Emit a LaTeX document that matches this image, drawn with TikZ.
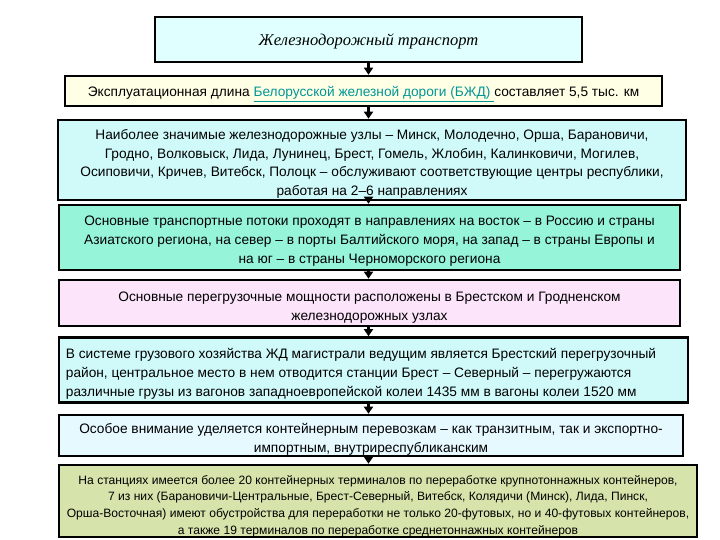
\documentclass[tikz,border=0pt]{standalone}
\usepackage{fontspec}
\setmainfont{Liberation Sans}
\newfontfamily\titlefont{Liberation Serif}
\usetikzlibrary{arrows.meta}
\definecolor{cA}{RGB}{224,255,255}
\definecolor{cB}{RGB}{255,255,230}
\definecolor{cC}{RGB}{208,250,250}
\definecolor{cD}{RGB}{150,244,216}
\definecolor{cE}{RGB}{252,228,250}
\definecolor{cF}{RGB}{208,250,250}
\definecolor{cG}{RGB}{230,249,255}
\definecolor{cH}{RGB}{214,228,172}
\definecolor{linkc}{RGB}{0,150,150}
\tikzset{
  box/.style={draw=black, line width=2.6pt, inner sep=0pt},
  txt/.style={inner sep=0pt, align=center, font=\fontsize{13.7}{18.7}\selectfont},
  arr/.style={line width=2.6pt, -{Triangle[width=9pt,length=7pt]}},
}
\begin{document}
\begin{tikzpicture}[x=1pt,y=-1pt]
\useasboundingbox (0,0) rectangle (720,540);
% boxes
\node[box, fill=cA, minimum width=427, minimum height=45] (b1) at (368.5,39.5) {};
\node[box, fill=cB, minimum width=597, minimum height=30] (b2) at (363.5,91) {};
\node[box, fill=cC, minimum width=628, minimum height=80] (b3) at (372,160) {};
\node[box, fill=cD, minimum width=621, minimum height=65] (b4) at (369.5,237.5) {};
\node[box, fill=cE, minimum width=621, minimum height=46] (b5) at (369.5,303) {};
\node[box, fill=cF, minimum width=629, minimum height=65] (b6) at (373.5,370) {};
\node[box, fill=cG, minimum width=624, minimum height=41] (b7) at (371,435.5) {};
\node[box, fill=cH, minimum width=638, minimum height=72] (b8) at (378,501) {};
% connectors
\foreach \a/\b in {b1/b2,b2/b3,b3/b4,b4/b5,b5/b6,b6/b7,b7/b8}{
  \draw[arr] (b1.south |- \a.south) -- (b1.south |- \b.north);
}
% texts
\node[txt, font=\titlefont\itshape\fontsize{16.5}{18}\selectfont] (t1) at ([yshift=-2pt]b1.center) {Железнодорожный транспорт};
\node[txt] (t2) at ([yshift=-3pt]b2.center) {Эксплуатационная длина {\color{linkc}\underline{Белорусской железной дороги (БЖД) }}составляет 5,5 тыс. км};
\node[txt] (t3) at ([yshift=-4pt]b3.center) {Наиболее значимые железнодорожные узлы – Минск, Молодечно, Орша, Барановичи,\\ Гродно, Волковыск, Лида, Лунинец, Брест, Гомель, Жлобин, Калинковичи, Могилев,\\ Осиповичи, Кричев, Витебск, Полоцк – обслуживают соответствующие центры республики,\\ работая на 2–6 направлениях};
\node[txt] (t4) at ([yshift=-3.5pt]b4.center) {Основные транспортные потоки проходят в направлениях на восток – в Россию и страны\\ Азиатского региона, на север – в порты Балтийского моря, на запад – в страны Европы и\\ на юг – в страны Черноморского региона};
\node[txt] (t5) at ([yshift=-4.5pt]b5.center) {Основные перегрузочные мощности расположены в Брестском и Гродненском\\ железнодорожных узлах};
\node[txt, align=left, anchor=west] (t6) at ([xshift=8pt,yshift=-4pt]b6.west) {В системе грузового хозяйства ЖД магистрали ведущим является Брестский перегрузочный\\ район, центральное место в нем отводится станции Брест – Северный – перегружаются\\ различные грузы из вагонов западноевропейской колеи 1435 мм в вагоны колеи 1520 мм};
\node[txt] (t7) at ([yshift=-4pt]b7.center) {Особое внимание уделяется контейнерным перевозкам – как транзитным, так и экспортно-\\ импортным, внутриреспубликанским};
\node[txt, font=\fontsize{12.1}{16.8}\selectfont] (t8) at ([yshift=-5pt]b8.center) {На станциях имеется более 20 контейнерных терминалов по переработке крупнотоннажных контейнеров,\\ 7 из них (Барановичи-Центральные, Брест-Северный, Витебск, Колядичи (Минск), Лида, Пинск,\\ Орша-Восточная) имеют обустройства для переработки не только 20-футовых, но и 40-футовых контейнеров,\\ а также 19 терминалов по переработке среднетоннажных контейнеров};
\end{tikzpicture}
\end{document}
